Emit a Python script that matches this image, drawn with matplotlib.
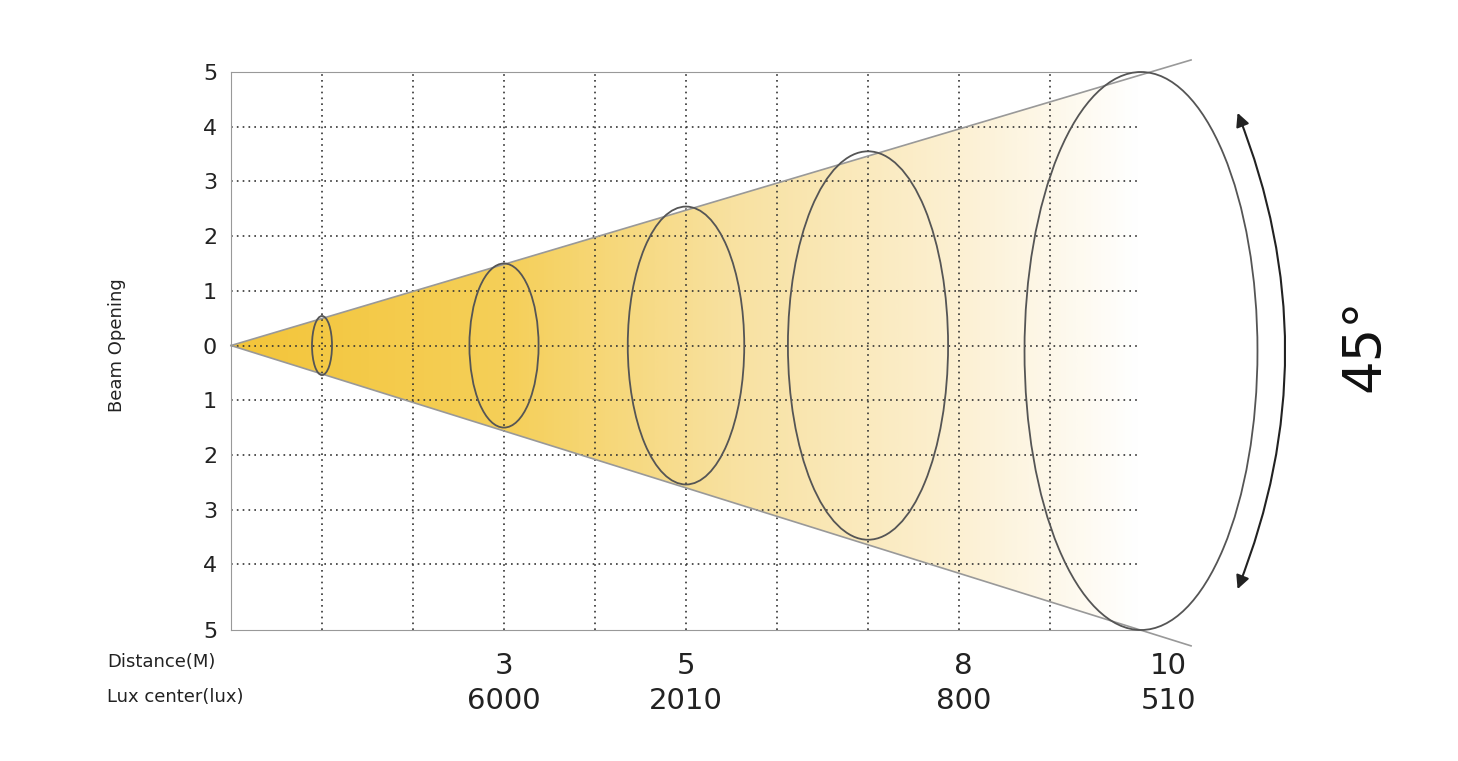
import numpy as np
import matplotlib
matplotlib.use("Agg")
import matplotlib.pyplot as plt
from matplotlib.patches import Ellipse, Polygon, FancyArrowPatch
from matplotlib.colors import LinearSegmentedColormap

y_ticks = [5, 4, 3, 2, 1, 0, -1, -2, -3, -4, -5.2]
y_labels = ["5", "4", "3", "2", "1", "0", "1", "2", "3", "4", "5"]
dist_pos = [3, 5, 8.05, 10.3]
dist_labels = ["3", "5", "8", "10"]
lux_labels = ["6000", "2010", "800", "510"]
ell_x = [1, 3, 5, 7, 10]
ell_w = [0.22, 0.76, 1.28, 1.76, 2.56]
ell_h = [1.08, 3.0, 5.08, 7.1, 10.2]
ell_yc = [0, 0, 0, 0, -0.1]

fig = plt.figure(figsize=(14.58, 7.61), dpi=100)
ax = fig.add_axes([231/1458, 1-630/761, (1141-231)/1458, (630-72)/761])
ax.set_xlim(0, 10)
ax.set_ylim(-5.2, 5)

cmap = LinearSegmentedColormap.from_list(
    "b", [(0, "#f3c53a"), (0.3, "#f5cf58"), (0.55, "#f8e1a0"), (0.8, "#fcf0d2"), (1.0, "#ffffff")])
grad = np.linspace(0, 1, 400).reshape(1, -1)
im = ax.imshow(grad, extent=[0, 10, -5.2, 5], aspect="auto", cmap=cmap, zorder=1)
poly = Polygon([[0, 0], [10, 4.95], [10, -5.2]], closed=True, transform=ax.transData,
               facecolor="none", edgecolor="none")
ax.add_patch(poly)
im.set_clip_path(poly)

for x in range(1, 10):
    ax.axvline(x, color="#333333", ls=(0, (1, 2.5)), lw=1.2, zorder=2)
for y in [4, 3, 2, 1, 0, -1, -2, -3, -4]:
    ax.axhline(y, color="#333333", ls=(0, (1, 2.5)), lw=1.2, zorder=2)

ax.plot([0, 10.55], [0, 5.22], color="#999999", lw=1.2, clip_on=False, zorder=3)
ax.plot([0, 10.55], [0, -5.49], color="#999999", lw=1.2, clip_on=False, zorder=3)

for x, w, h, yc in zip(ell_x, ell_w, ell_h, ell_yc):
    ax.add_patch(Ellipse((x, yc), w, h, fill=False, edgecolor="#555555", lw=1.3,
                         clip_on=False, zorder=4))

for s in ["top", "left", "bottom"]:
    ax.spines[s].set_color("#999999")
ax.spines["right"].set_visible(False)
ax.set_xticks([])
ax.set_yticks(y_ticks)
ax.set_yticklabels(y_labels, fontsize=16, color="#222222")
ax.tick_params(axis="y", length=0, pad=10)

ax.text(-1.25, 0, "Beam Opening", rotation=90, ha="center", va="center", fontsize=13, color="#222222")
fig.text(107/1458, 1-662/761, "Distance(M)", fontsize=13, va="center", color="#222222")
fig.text(107/1458, 1-697/761, "Lux center(lux)", fontsize=13, va="center", color="#222222")
for x, d, l in zip(dist_pos, dist_labels, lux_labels):
    ax.text(x, -5.2 - 0.65, d, ha="center", va="center", fontsize=21, color="#222222", clip_on=False)
    ax.text(x, -5.2 - 1.3, l, ha="center", va="center", fontsize=21, color="#222222", clip_on=False)

arr = FancyArrowPatch((11.05, 4.3), (11.05, -4.5), connectionstyle="arc3,rad=-0.2",
                      arrowstyle="<|-|>,head_length=8,head_width=4", color="#222222", lw=1.5,
                      transform=ax.transData, clip_on=False)
ax.add_patch(arr)
ax.text(12.45, 0, "45°", rotation=90, ha="center", va="center", fontsize=38, color="#111111", clip_on=False)

fig.savefig("out.png", dpi=100, facecolor="white")
